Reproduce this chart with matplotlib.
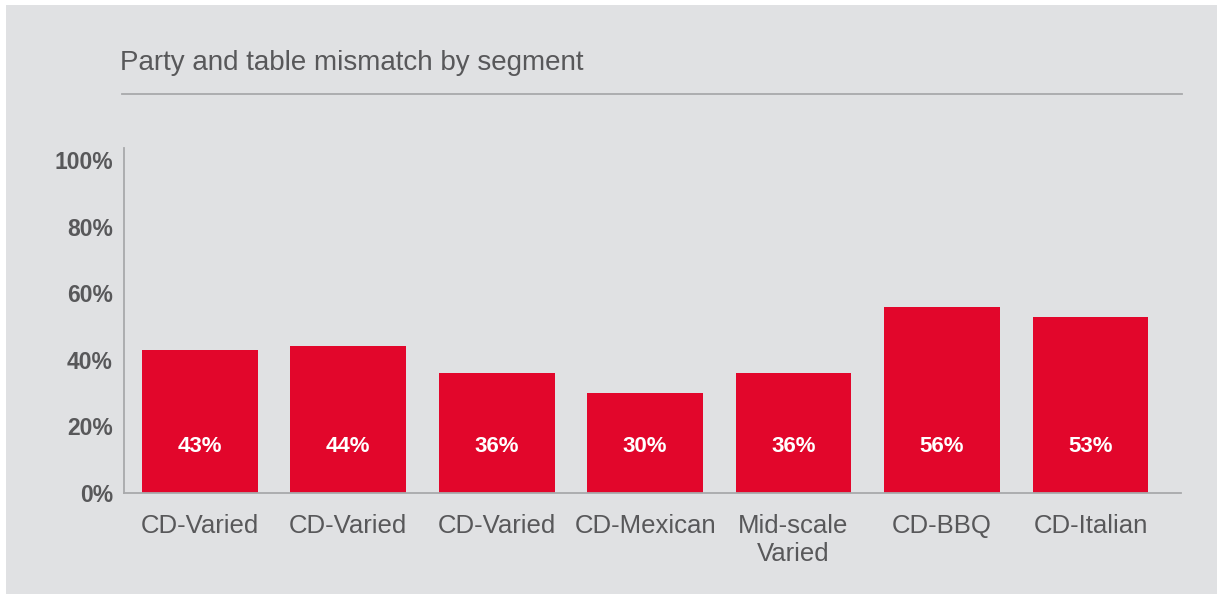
import matplotlib
matplotlib.use("Agg")
import matplotlib.pyplot as plt
from matplotlib.patches import Rectangle
from matplotlib.lines import Line2D

# Data
segments = ["CD-Varied", "CD-Varied", "CD-Varied", "CD-Mexican",
            "Mid-scale\nVaried", "CD-BBQ", "CD-Italian"]
mismatch_pct = [43, 44, 36, 30, 36, 56, 53]
y_ticks = [0, 20, 40, 60, 80, 100]
title = "Party and table mismatch by segment"

# Styling
plt.rcParams["font.family"] = ["Liberation Sans", "DejaVu Sans"]

BG = "#e0e1e3"
RED = "#e2062b"
TEXT = "#58585a"
RULE = "#a8a9ab"

W, H = 1217, 594
fig = plt.figure(figsize=(W / 100, H / 100), dpi=100, facecolor="white")

# panel background (thin white margin on top and left)
fig.patches.append(Rectangle((6 / W, 0), 1 - 6 / W, 1 - 5 / H,
                             transform=fig.transFigure, facecolor=BG,
                             edgecolor="none", zorder=-5))

# title and rule beneath it
fig.text(120 / W, 1 - 63 / H, title, fontsize=20, color=TEXT,
         ha="left", va="center")
fig.add_artist(Line2D([122 / W, 1182 / W], [1 - 94 / H, 1 - 94 / H],
                      transform=fig.transFigure, color=RULE, lw=1.3))

left, right = 124, 1181
top, bottom = 148, 493
ax = fig.add_axes([left / W, 1 - bottom / H, (right - left) / W, (bottom - top) / H])
ax.set_zorder(2)
ax.patch.set_visible(False)

x = list(range(len(segments)))
ax.bar(x, mismatch_pct, width=0.78, color=RED, zorder=2)
for xi, v in zip(x, mismatch_pct):
    ax.text(xi, 14.0, f"{v}%", ha="center", va="center", color="white",
            fontsize=16, fontweight="bold", zorder=3)

ax.set_xlim(-0.51, 6.61)
ax.set_ylim(0, 103.6)
ax.set_yticks(y_ticks)
ax.set_yticklabels([f"{t}%" for t in y_ticks])
ax.set_xticks(x)
ax.set_xticklabels(segments)

for s in ("top", "right"):
    ax.spines[s].set_visible(False)
for s in ("left", "bottom"):
    ax.spines[s].set_color(RULE)
    ax.spines[s].set_linewidth(1.3)

ax.tick_params(axis="both", length=0, colors=TEXT)
ax.tick_params(axis="y", labelsize=16.5, pad=8)
ax.tick_params(axis="x", labelsize=18.5, pad=15)
for lbl in ax.get_yticklabels():
    lbl.set_fontweight("bold")
for lbl in ax.get_xticklabels():
    lbl.set_linespacing(1.2)
    lbl.set_verticalalignment("top")

fig.savefig("out.png", dpi=100, facecolor="white")
